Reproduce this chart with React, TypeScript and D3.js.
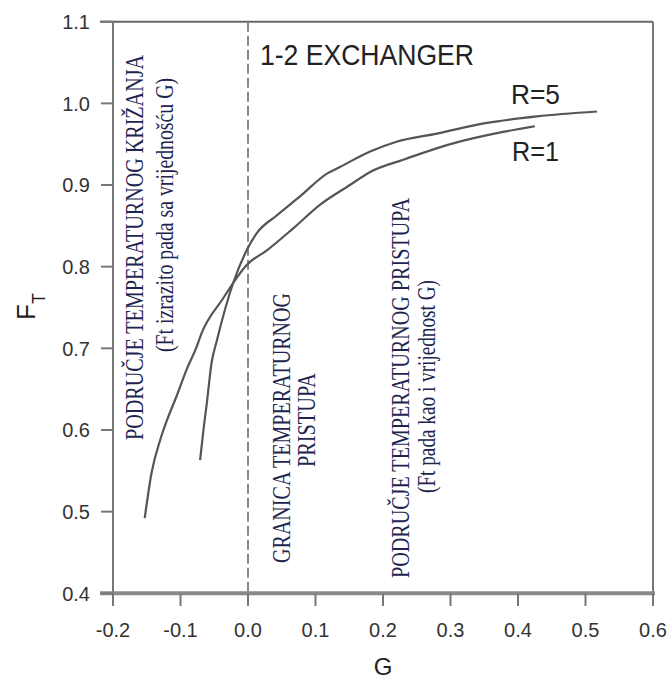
import React from "react";
import * as d3 from "d3";

const W = 668;
const H = 677;

const xTicks = [-0.2, -0.1, 0.0, 0.1, 0.2, 0.3, 0.4, 0.5, 0.6];
const yTicks = [0.4, 0.5, 0.6, 0.7, 0.8, 0.9, 1.0, 1.1];

const r1G = [-0.153, -0.143, -0.130, -0.120, -0.106, -0.091, -0.076, -0.069, -0.037, -0.022, -0.002, 0.028, 0.067, 0.107, 0.151, 0.181, 0.230, 0.304, 0.378, 0.425];
const r1F = [0.492, 0.547, 0.588, 0.612, 0.641, 0.674, 0.702, 0.718, 0.761, 0.780, 0.802, 0.820, 0.847, 0.876, 0.900, 0.916, 0.931, 0.951, 0.965, 0.972];

const r5G = [-0.071, -0.066, -0.061, -0.054, -0.046, -0.022, -0.002, 0.013, 0.043, 0.077, 0.117, 0.136, 0.181, 0.220, 0.280, 0.354, 0.428, 0.517];
const r5F = [0.563, 0.600, 0.633, 0.682, 0.710, 0.780, 0.820, 0.841, 0.863, 0.886, 0.914, 0.922, 0.941, 0.953, 0.963, 0.976, 0.984, 0.990];

const seriesLabels = ["R=5", "R=1"];
const title = "1-2 EXCHANGER";

export default function App() {
  const x = d3.scaleLinear().domain([-0.2, 0.6]).range([113, 653]);
  const y = d3.scaleLinear().domain([0.4, 1.1]).range([593.3, 21.7]);

  const line = d3
    .line<[number, number]>()
    .x((d) => x(d[0]))
    .y((d) => y(d[1]))
    .curve(d3.curveMonotoneX);

  const r1 = r1G.map((g, i) => [g, r1F[i]] as [number, number]);
  const r5 = r5G.map((g, i) => [g, r5F[i]] as [number, number]);

  const serif = "'Liberation Serif', 'DejaVu Serif', serif";
  const sans = "'Liberation Sans', Arial, sans-serif";
  const annColor = "#1e2650";

  const rot = (bx: number, cy: number, txt: string, len: number, fs: number, key: string) => (
    <text
      key={key}
      transform={`translate(${bx},${cy}) rotate(-90)`}
      textAnchor="middle"
      fontFamily={serif}
      fontSize={fs}
      fill={annColor}
      textLength={len}
      lengthAdjust="spacingAndGlyphs"
    >
      {txt}
    </text>
  );

  return (
    <svg
      width={W}
      height={H}
      style={{ position: "absolute", left: 0, top: 0, background: "#fff" }}
    >
      <rect x={0} y={0} width={W} height={H} fill="#fff" />
      {/* frame */}
      <line x1={100} x2={653} y1={y(1.1)} y2={y(1.1)} stroke="#666" strokeWidth={2} />
      <line x1={x(0.6)} x2={x(0.6)} y1={y(1.1)} y2={y(0.4)} stroke="#777" strokeWidth={2} />
      <line x1={x(-0.2)} x2={x(-0.2)} y1={y(1.1)} y2={y(0.4)} stroke="#777" strokeWidth={2} />
      <line x1={100} x2={655} y1={y(0.4)} y2={y(0.4)} stroke="#8a8a8a" strokeWidth={4} />
      {/* y ticks */}
      {yTicks.map((t) => (
        <g key={"y" + t}>
          <line x1={101} x2={113} y1={y(t)} y2={y(t)} stroke="#777" strokeWidth={2} />
          <text
            x={90}
            y={y(t)}
            dy="0.36em"
            textAnchor="end"
            fontFamily={sans}
            fontSize={20}
            fill="#333"
          >
            {t.toFixed(1)}
          </text>
        </g>
      ))}
      {/* x ticks */}
      {xTicks.map((t) => (
        <g key={"x" + t}>
          <line x1={x(t)} x2={x(t)} y1={y(0.4)} y2={606} stroke="#777" strokeWidth={2} />
          <text
            x={x(t)}
            y={637}
            textAnchor="middle"
            fontFamily={sans}
            fontSize={20}
            fill="#333"
          >
            {t.toFixed(1)}
          </text>
        </g>
      ))}
      {/* dashed G=0 line */}
      <line
        x1={x(0)}
        x2={x(0)}
        y1={y(1.1)}
        y2={y(0.4)}
        stroke="#888"
        strokeWidth={2}
        strokeDasharray="10,4"
      />
      {/* axis labels */}
      <text x={383} y={675} textAnchor="middle" fontFamily={sans} fontSize={24} fill="#222">
        G
      </text>
      <text transform="translate(35,320) rotate(-90)" fontFamily={sans} fontSize={26} fill="#222">
        F
        <tspan dy={10} fontSize={18}>
          T
        </tspan>
      </text>
      {/* title */}
      <text
        x={260}
        y={65}
        fontFamily={sans}
        fontSize={29}
        fill="#222"
        textLength={214}
        lengthAdjust="spacingAndGlyphs"
      >
        {title}
      </text>
      {/* curves */}
      <path d={line(r5) || ""} fill="none" stroke="#555" strokeWidth={2.2} />
      <path d={line(r1) || ""} fill="none" stroke="#555" strokeWidth={2.2} />
      <text x={511} y={104} fontFamily={sans} fontSize={27} fill="#222" textLength={49} lengthAdjust="spacingAndGlyphs">
        {seriesLabels[0]}
      </text>
      <text x={512} y={161} fontFamily={sans} fontSize={27} fill="#222" textLength={47} lengthAdjust="spacingAndGlyphs">
        {seriesLabels[1]}
      </text>
      {/* annotations */}
      {rot(143, 247.5, "PODRUČJE TEMPERATURNOG KRIŽANJA", 385, 26, "a1")}
      {rot(173, 215, "(Ft izrazito pada sa vrijednošću G)", 274, 26, "a2")}
      {rot(290, 428, "GRANICA TEMPERATURNOG", 270, 26, "a3")}
      {rot(315, 420, "PRISTUPA", 94, 26, "a4")}
      {rot(409, 388, "PODRUČJE TEMPERATURNOG PRISTUPA", 380, 26, "a5")}
      {rot(435, 386.5, "(Ft pada kao i vrijednost G)", 213, 26, "a6")}
    </svg>
  );
}
